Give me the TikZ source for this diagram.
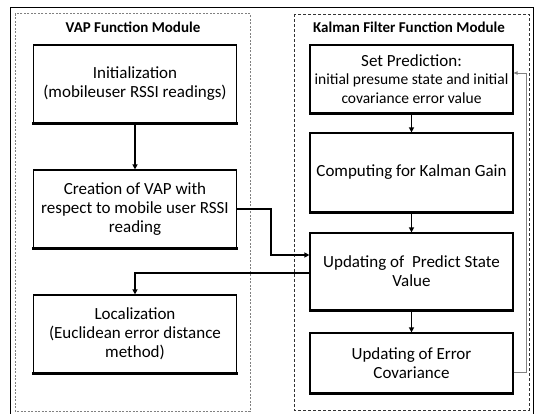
\documentclass[tikz,border=0pt]{standalone}
\usepackage{fontspec}
\setmainfont{Carlito}
\usetikzlibrary{arrows.meta,calc}
\begin{document}
\begin{tikzpicture}[x=1pt,y=-1pt,
  procbox/.style={draw=black,line width=1.2pt,rectangle,minimum width=203pt,align=center,inner sep=1pt,font=\fontsize{17}{19}\selectfont},
  flow/.style={line width=1.5pt,-{Triangle[length=5pt,width=5pt]}},
  fback/.style={draw=gray,line width=0.8pt,-{Triangle[length=4pt,width=3.5pt]}},
  ttl/.style={font=\bfseries\fontsize{15}{17}\selectfont}]
\useasboundingbox (0,0) rectangle (536,414);
% outer frame
\draw[line width=0.9pt] (10,420) -- (10,7) -- (533,7) -- (533,420);
% module frames
\draw[gray,line width=1pt,dash pattern=on 2pt off 1.5pt] (15,14) rectangle (250,411);
\draw[black!80,line width=0.7pt,dash pattern=on 3pt off 2pt] (294,14) rectangle (529,410);
\node[ttl] (t1) at (133,27) {VAP Function Module};
\node[ttl] (t2) at (409,27) {Kalman Filter Function Module};
% left column
\node[procbox,minimum height=78pt] (init) at (135,84) {Initialization\\(mobileuser RSSI readings)};
\node[procbox,minimum height=78pt] (cre) at (135,209) {Creation of VAP with\\respect to mobile user RSSI\\reading};
\node[procbox,minimum height=78pt] (loc) at (135,334) {Localization\\(Euclidean error distance\\method)};
% right column
\node[procbox,minimum height=68pt,font=\fontsize{15.5}{18.5}\selectfont] (sp) at (411.5,79) {{\fontsize{17}{19}\selectfont Set Prediction:}\\initial presume state and initial\\covariance error value};
\node[procbox,minimum height=79pt] (kg) at (411.5,172.5) {Computing for Kalman Gain};
\node[procbox,minimum height=77pt] (upd) at (411.5,271.5) {Updating of~ Predict State\\Value};
\node[procbox,minimum height=60pt] (err) at (411.5,363) {Updating of Error\\Covariance};
% thicker bottom edges
\foreach \n in {init,cre,loc,sp,kg,upd,err}
  \draw[line width=2.4pt] ([xshift=-0.6pt]\n.south west) -- ([xshift=0.6pt]\n.south east);
% connectors
\draw[flow] (init.south) -- (cre.north);
\draw[flow] (cre.east) -- ++(34,0) |- ([yshift=16.5pt]upd.west);
\draw[flow] ([yshift=-1.5pt]upd.west) -| (loc.north);
\draw[flow] (sp.south) -- (kg.north);
\draw[flow] (kg.south) -- (upd.north);
\draw[flow] (upd.south) -- (err.south |- err.north);
\draw[fback] ([yshift=-9pt]err.east) -- ++(13,0) |- ([yshift=6pt]sp.east);
\end{tikzpicture}
\end{document}
